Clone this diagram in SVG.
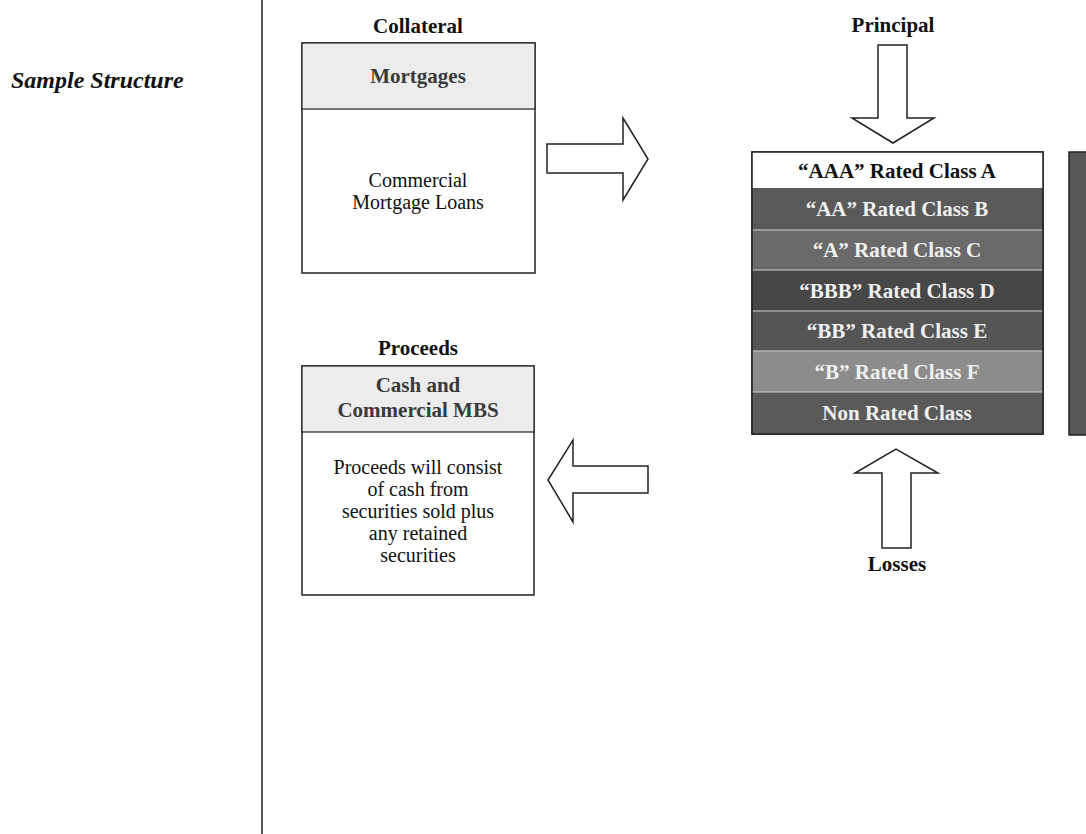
<svg xmlns="http://www.w3.org/2000/svg" width="1086" height="834" viewBox="0 0 1086 834">
<style>
  text { font-family: "Liberation Serif", "Times New Roman", serif; }
  .title { font-size: 21px; font-weight: bold; fill: #111; text-anchor: middle; }
  .hdr { font-size: 21px; font-weight: bold; fill: #3a3a3a; text-anchor: middle; }
  .body { font-size: 20px; fill: #111; text-anchor: middle; }
  .tr { font-size: 21px; font-weight: bold; fill: #f0f0f0; text-anchor: middle; }
  .trA { font-size: 21px; font-weight: bold; fill: #111; text-anchor: middle; }
  .box { fill: #fff; stroke: #222; stroke-width: 1.5; }
  .head { fill: #ececec; stroke: #222; stroke-width: 1.2; }
  .arrow { fill: #fff; stroke: #222; stroke-width: 1.5; stroke-linejoin: miter; }
  .sep { stroke: #d0d0d0; stroke-width: 1; }
</style>
<rect width="1086" height="834" fill="#fff"/>
<line x1="262" y1="0" x2="262" y2="834" stroke="#222" stroke-width="1.5"/>
<text x="11" y="88" style="font-size:24px;font-weight:bold;font-style:italic;fill:#111">Sample Structure</text>

<g id="collateral">
  <text class="title" x="418" y="33">Collateral</text>
  <rect class="box" x="302" y="43" width="233" height="230"/>
  <rect class="head" x="302" y="43" width="233" height="66"/>
  <text class="hdr" x="418" y="83">Mortgages</text>
  <text class="body" x="418" y="187">Commercial</text>
  <text class="body" x="418" y="209">Mortgage Loans</text>
</g>

<g id="proceeds">
  <text class="title" x="418" y="355">Proceeds</text>
  <rect class="box" x="302" y="366" width="232" height="229"/>
  <rect class="head" x="302" y="366" width="232" height="66"/>
  <text class="hdr" x="418" y="392">Cash and</text>
  <text class="hdr" x="418" y="417">Commercial MBS</text>
  <text class="body" x="418" y="474">Proceeds will consist</text>
  <text class="body" x="418" y="496">of cash from</text>
  <text class="body" x="418" y="518">securities sold plus</text>
  <text class="body" x="418" y="540">any retained</text>
  <text class="body" x="418" y="562">securities</text>
</g>

<g id="tranches">
  <rect x="752" y="152" width="291" height="282" fill="#555" stroke="#222" stroke-width="1.5"/>
  <rect x="752" y="152" width="291" height="36" fill="#fff"/>
  <rect x="752" y="188" width="291" height="42" fill="#5a5a5a"/>
  <rect x="752" y="230" width="291" height="40" fill="#6a6a6a"/>
  <rect x="752" y="270" width="291" height="41" fill="#474747"/>
  <rect x="752" y="311" width="291" height="40" fill="#555"/>
  <rect x="752" y="351" width="291" height="41" fill="#8c8c8c"/>
  <rect x="752" y="392" width="291" height="42" fill="#5a5a5a"/>
  <line class="sep" x1="752" y1="230" x2="1043" y2="230"/>
  <line class="sep" x1="752" y1="270" x2="1043" y2="270" stroke="#f0f0f0"/>
  <line class="sep" x1="752" y1="311" x2="1043" y2="311"/>
  <line class="sep" x1="752" y1="351" x2="1043" y2="351" stroke="#f0f0f0"/>
  <line class="sep" x1="752" y1="392" x2="1043" y2="392" stroke="#f0f0f0"/>
  <rect x="752" y="152" width="291" height="282" fill="none" stroke="#222" stroke-width="1.5"/>
  <text class="trA" x="897" y="178">“AAA” Rated Class A</text>
  <text class="tr" x="897" y="216">“AA” Rated Class B</text>
  <text class="tr" x="897" y="257">“A” Rated Class C</text>
  <text class="tr" x="897" y="298">“BBB” Rated Class D</text>
  <text class="tr" x="897" y="338">“BB” Rated Class E</text>
  <text class="tr" x="897" y="379">“B” Rated Class F</text>
  <text class="tr" x="897" y="420">Non Rated Class</text>
</g>

<g id="side-box">
  <rect x="1069" y="152" width="22" height="283" fill="#575757" stroke="#222" stroke-width="1.5"/>
</g>

<g id="labels">
  <text class="title" x="893" y="32">Principal</text>
  <text class="title" x="897" y="571">Losses</text>
</g>

<g id="connectors">
  <polygon class="arrow" points="547,144 623,144 623,118 648,159 623,200 623,173 547,173"/>
  <polygon class="arrow" points="648,466 573,466 573,440 548,480 573,522 573,493 648,493"/>
  <polygon class="arrow" points="878,45 907,45 907,118 934,118 893,143 852,118 878,118"/>
  <polygon class="arrow" points="882,548 911,548 911,473 938,473 896,449 855,473 882,473"/>
</g>
</svg>
